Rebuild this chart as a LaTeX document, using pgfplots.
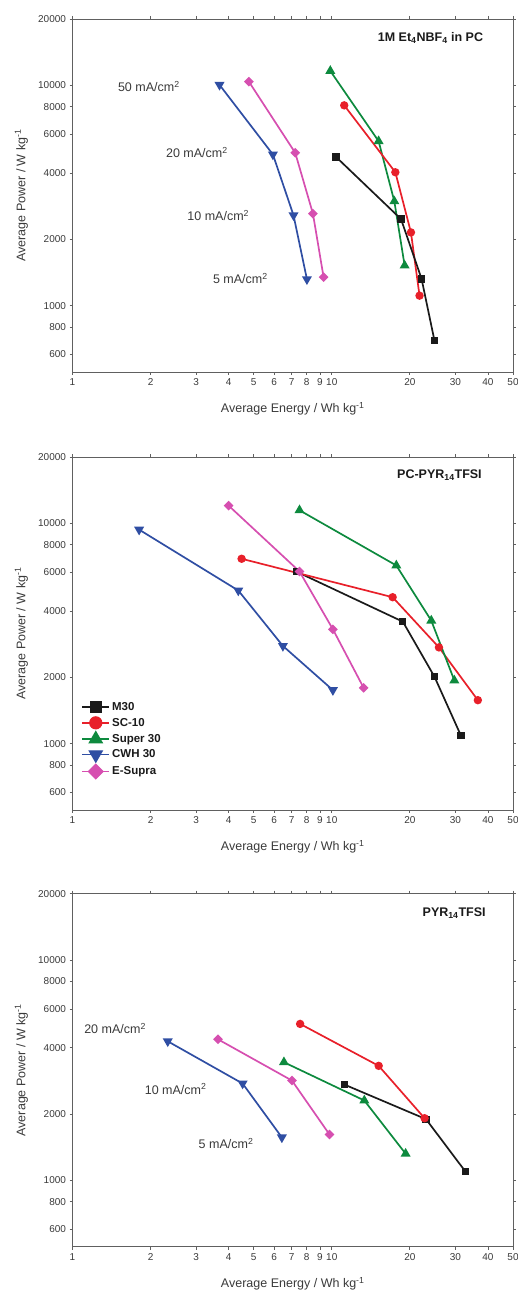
\documentclass[border=0pt]{standalone}
\usepackage{pgfplots}
\pgfplotsset{compat=1.18}
\usepackage{fontspec}
\setmainfont{Liberation Sans}
\definecolor{cM}{HTML}{1A1A1A}
\definecolor{cSC}{HTML}{E8202A}
\definecolor{cSu}{HTML}{0D8A3E}
\definecolor{cCW}{HTML}{2F4EA3}
\definecolor{cES}{HTML}{D64FB0}
\definecolor{axc}{HTML}{606060}
\definecolor{txc}{HTML}{3A3A3A}
\pgfplotsset{
  panel/.style={
    scale only axis,
    width=440.5pt, height=353pt,
    xmin=1, xmax=50, ymin=500, ymax=20000,
    xtick={1,2,3,4,5,6,7,8,9,10,20,30,40,50},
    xticklabels={1,2,3,4,5,6,7,8,9,10,20,30,40,50},
    ytick={600,800,1000,2000,4000,6000,8000,10000,20000},
    yticklabels={600,800,1000,2000,4000,6000,8000,10000,20000},
    minor xtick={}, minor ytick={},
    axis line style={axc, line width=0.9pt},
    tick style={axc, line width=0.7pt},
    tick align=outside, major tick length=3pt,
    ticklabel style={font=\fontsize{10}{12}\selectfont, text=txc},
    /pgf/number format/assume math mode=true,
    xlabel={Average Energy / Wh kg\textsuperscript{-1}},
    ylabel={Average Power / W kg\textsuperscript{-1}},
    label style={font=\fontsize{12.5}{14}\selectfont, text=txc},
    xlabel style={at={(axis description cs:0.5,-0.105)}, anchor=center},
    ylabel style={at={(axis description cs:-0.116,0.5)}, anchor=center},
    every axis plot/.append style={line width=1.7pt},
  },
  sM/.style={color=cM, mark=square*, mark size=2.8pt, mark options={solid, fill=cM}},
  sSC/.style={color=cSC, mark=*, mark size=3.3pt, mark options={solid, fill=cSC}},
  sSu/.style={color=cSu, mark=triangle*, mark size=4.1pt, mark options={solid, fill=cSu}},
  sCW/.style={color=cCW, mark=triangle*, mark size=4.1pt, mark options={solid, fill=cCW, rotate=180}},
  sES/.style={color=cES, mark=square*, mark size=2.6pt, mark options={solid, fill=cES, rotate=45}},
}
\newcommand{\ann}[3]{\node[font=\fontsize{12.5}{14}\selectfont, text=txc] at (axis cs:#1,#2) {#3~mA/cm\textsuperscript{2}};}
\begin{document}
\begin{tikzpicture}
\path[use as bounding box] (0,0) rectangle (518pt,1291pt);
% ---------------- Panel 1 ----------------
\begin{loglogaxis}[panel, at={(72.5pt,919pt)}, anchor=south west]
\addplot[sCW] coordinates {(3.69,10050) (5.93,4853) (7.12,2570) (8.02,1318)};
\addplot[sES] coordinates {(4.79,10390) (7.23,4937) (8.46,2615) (9.30,1346)};
\addplot[sSu] coordinates {(9.87,11620) (15.16,5577) (17.43,2975) (19.1,1521)};
\addplot[sSC] coordinates {(11.17,8110) (17.59,4031) (20.2,2150) (21.8,1110)};
\addplot[sM] coordinates {(10.38,4733) (18.5,2470) (22.2,1323) (24.9,693)};
\ann{1.97}{9900}{50}
\ann{3.02}{4955}{20}
\ann{3.65}{2560}{10}
\ann{4.44}{1324}{5}
\node[anchor=east, font=\bfseries\fontsize{12.5}{14}\selectfont, text=cM] at (rel axis cs:0.94,0.946) {1M Et\textsubscript{4}NBF\textsubscript{4} in PC};
\end{loglogaxis}
% ---------------- Panel 2 ----------------
\begin{loglogaxis}[panel, at={(72.5pt,481pt)}, anchor=south west,
  legend style={at={(rel axis cs:0.013,0.082)}, anchor=south west, draw=none, fill=none,
    font=\bfseries\fontsize{11.5}{13}\selectfont, text=cM, row sep=2pt,
    /tikz/every even column/.append style={column sep=2pt}},
  legend cell align=left,
  legend image code/.code={
    \draw[#1, mark=none, line width=1.7pt] (0pt,0pt) -- (27pt,0pt);
    \draw[#1, line width=1.2pt] plot coordinates {(13.5pt,0pt)};},
  ]
\addplot[sM, legend image post style={mark size=5.5pt}] coordinates {(7.29,6045) (18.8,3578) (24.9,2012) (31.5,1087)};
\addlegendentry{M30}
\addplot[sSC, legend image post style={mark size=6pt}] coordinates {(4.49,6905) (17.17,4620) (25.9,2735) (36.6,1575)};
\addlegendentry{SC-10}
\addplot[sSu, legend image post style={mark size=7.5pt}] coordinates {(7.51,11460) (17.74,6437) (24.2,3618) (29.7,1936)};
\addlegendentry{Super 30}
\addplot[sCW, legend image post style={mark size=7.5pt}] coordinates {(1.807,9360) (4.36,4955) (6.48,2776) (10.1,1750)};
\addlegendentry{CWH 30}
\addplot[sES, legend image post style={mark size=5.2pt}] coordinates {(4.0,12030) (7.51,6045) (10.1,3304) (13.27,1793)};
\addlegendentry{E-Supra}
\node[anchor=east, font=\bfseries\fontsize{12.5}{14}\selectfont, text=cM] at (rel axis cs:0.937,0.949) {PC-PYR\textsubscript{14}TFSI};
\end{loglogaxis}
% ---------------- Panel 3 ----------------
\begin{loglogaxis}[panel, at={(72.5pt,44.3pt)}, anchor=south west]
\addplot[sCW] coordinates {(2.33,4277) (4.53,2751) (6.42,1567)};
\addplot[sES] coordinates {(3.64,4368) (7.02,2838) (9.8,1615)};
\addplot[sSu] coordinates {(6.54,3436) (13.35,2304) (19.27,1321)};
\addplot[sM] coordinates {(11.17,2723) (23.1,1895) (32.8,1095)};
\addplot[sSC] coordinates {(7.55,5129) (15.17,3309) (22.8,1915)};
\ann{1.46}{4896}{20}
\ann{2.50}{2593}{10}
\ann{3.91}{1466}{5}
\node[anchor=east, font=\bfseries\fontsize{12.5}{14}\selectfont, text=cM] at (rel axis cs:0.946,0.946) {PYR\textsubscript{14}TFSI};
\end{loglogaxis}
\end{tikzpicture}
\end{document}
